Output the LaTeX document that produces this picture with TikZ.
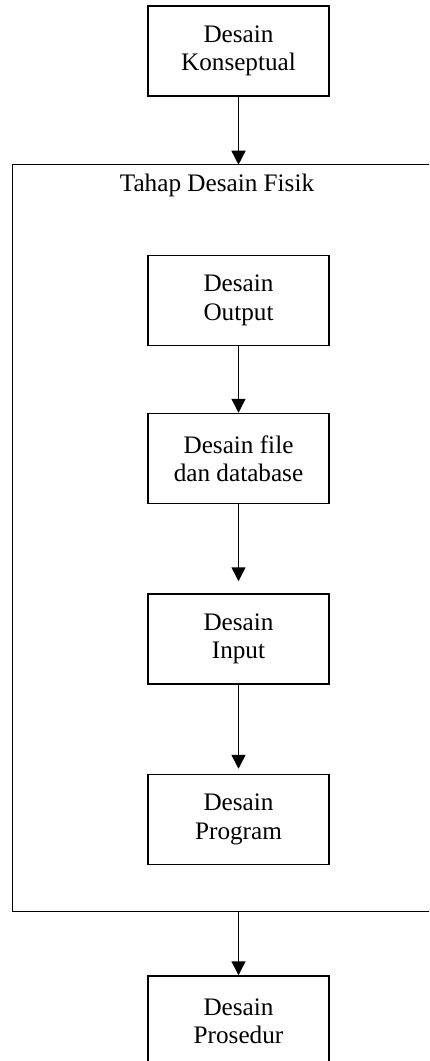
\documentclass[tikz,border=0pt]{standalone}
\usepackage{fontspec}
\setmainfont{Liberation Serif}
\usetikzlibrary{arrows.meta}

\begin{document}
\begin{tikzpicture}[x=0.5pt, y=-0.5pt,
	kotak/.style={draw, line width=0.75pt, minimum width=90.5pt, minimum height=45pt,
		inner sep=0pt, align=center, font=\fontsize{12.6}{14.2}\selectfont},
	panah/.style={-{Triangle[width=7pt, length=7pt]}, line width=0.75pt}]
			% Rahmen / batas gambar
			\useasboundingbox (0, 0) rectangle (429, 1061);
			\clip (0, 0) rectangle (429, 1061);
			
			% Desain Konseptual
			\node[kotak] (konsep) at (238.5, 51) {Desain\\Konseptual};
			
			% Tahap Desain Fisik
			\draw[line width=0.75pt] (12.7, 164.7) rectangle (445, 911.7);
			\coordinate (fisikatas) at (238.5, 164.7);
			\coordinate (fisikbawah) at (238.5, 911.7);
			\node[font=\fontsize{12.6}{14.2}\selectfont] (judul) at (217, 185) {Tahap Desain Fisik};
			
			\node[kotak] (output) at (238.5, 300.5) {Desain\\Output};
			\node[kotak] (file) at (238.5, 458.5) {Desain file\\dan database};
			\node[kotak] (input) at (238.5, 639) {Desain\\Input};
			\node[kotak] (program) at (238.5, 819.5) {Desain\\Program};
			
			% Desain Prosedur
			\node[kotak] (prosedur) at (238.5, 1021) {Desain\\Prosedur};
			
			% panah
			\draw[panah] (konsep) -- (fisikatas);
			\draw[panah] (output) -- (file);
			\draw[panah, shorten >=6pt] (file) -- (input);
			\draw[panah, shorten >=2.5pt] (input) -- (program);
			\draw[panah] (fisikbawah) -- (prosedur);
		\end{tikzpicture}
\end{document}
